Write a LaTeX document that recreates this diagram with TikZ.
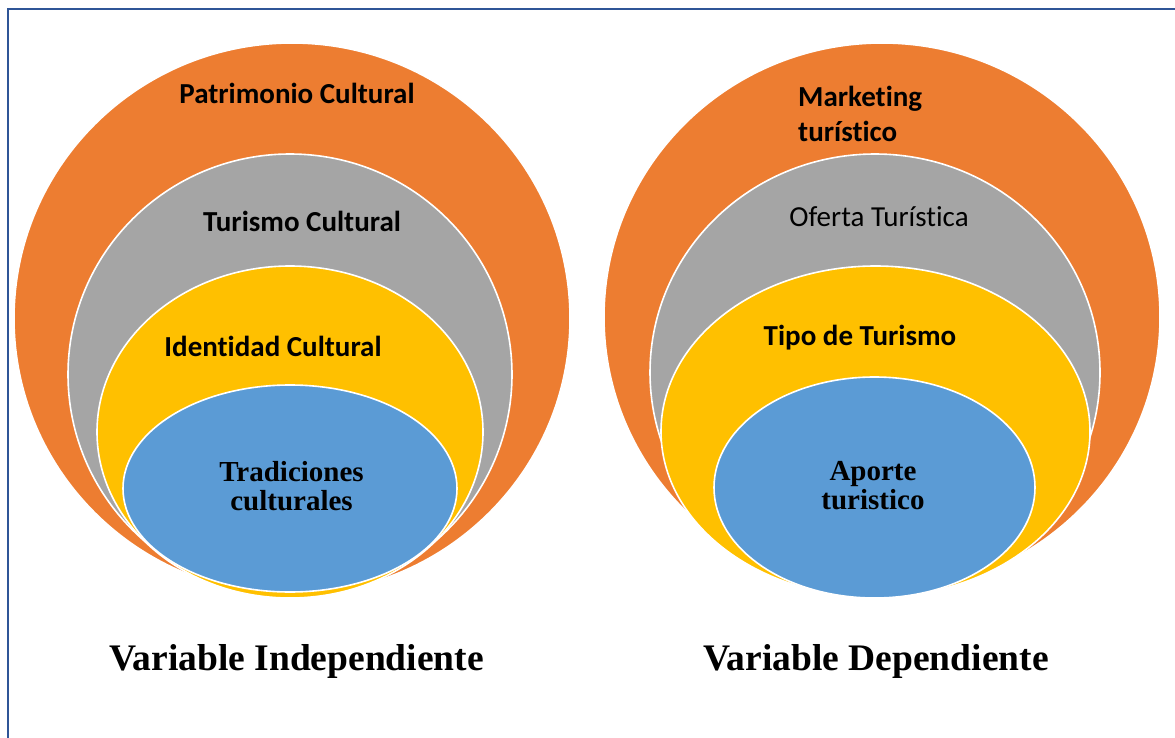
\documentclass[tikz,border=0pt]{standalone}
\usepackage{fontspec}
\setmainfont{Carlito}[Ligatures=CommonOff]
\newfontfamily\timesfont{Liberation Serif}
\usepackage{tikz}
\usetikzlibrary{positioning}
\usepackage{xcolor}
\definecolor{patorange}{HTML}{ED7D31}
\definecolor{turgray}{HTML}{A5A5A5}
\definecolor{idgold}{HTML}{FFC000}
\definecolor{tradblue}{HTML}{5B9BD5}
\definecolor{frameblue}{HTML}{2F5597}

\begin{document}
\begin{tikzpicture}[x=1pt,y=-1pt,
  ring/.style={fill=#1,draw=white,line width=1.6pt},
  lbl/.style={inner sep=0pt,font=\fontsize{29}{35}\selectfont\bfseries},
  lblthin/.style={inner sep=0pt,font=\fontsize{29}{35}\selectfont},
  core/.style={inner sep=0pt,align=center,font=\timesfont\fontsize{29}{29}\selectfont\bfseries},
  varname/.style={inner sep=0pt,font=\timesfont\fontsize{37.5}{40}\selectfont\bfseries}]

\useasboundingbox (0,0) rectangle (1175,738);
\fill[white] (0,0) rectangle (1175,738);
\draw[frameblue,line width=2.3pt] (8,740) -- (8,9.3) -- (1177,9.3);

% variable independiente
\filldraw[ring=patorange] (292,318.5) ellipse [x radius=278,y radius=275.5];
\filldraw[ring=turgray] (290,374.5) ellipse [x radius=222,y radius=220.5];
\filldraw[ring=idgold] (290,432) ellipse [x radius=193,y radius=166];
\filldraw[ring=tradblue] (290,488.5) ellipse [x radius=167,y radius=103.5];
\node[lbl,anchor=base] (patrimonio) at (297,104) {Patrimonio Cultural};
\node[lbl,anchor=base] (turismo) at (302,231) {Turismo Cultural};
\node[lbl,anchor=base] (identidad) at (273,356) {Identidad Cultural};
\node[core] (tradiciones) at (291.5,486) {Tradiciones\\culturales};

% variable dependiente
\filldraw[ring=patorange] (882,317) ellipse [x radius=278,y radius=274];
\filldraw[ring=turgray] (875,372.5) ellipse [x radius=225,y radius=218.5];
\filldraw[ring=idgold] (875.5,431.5) ellipse [x radius=214.5,y radius=165.5];
\filldraw[ring=tradblue] (874.5,487.5) ellipse [x radius=160.5,y radius=110.5];
\node[lbl,anchor=west,align=left] (marketing) at (798,113.5) {Marketing\\turístico};
\node[lblthin,anchor=base] (oferta) at (879,226) {Oferta Turística};
\node[lbl,anchor=base] (tipo) at (860,345) {Tipo de Turismo};
\node[core] (aporte) at (873,486) {Aporte\\turistico};

\node[varname,anchor=base] (indep) at (296.5,670) {Variable Independiente};
\node[varname,anchor=base] (dep) at (876,670) {Variable Dependiente};

\end{tikzpicture}
\end{document}
